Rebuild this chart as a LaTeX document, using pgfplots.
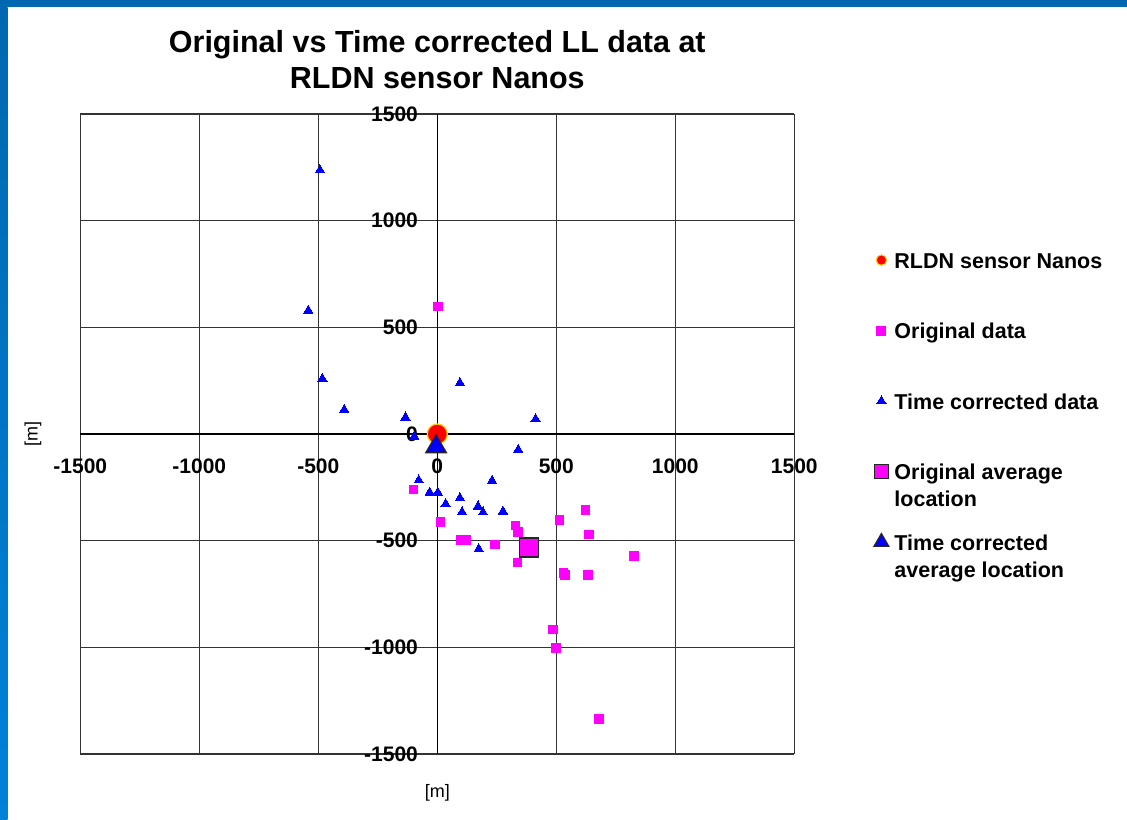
\documentclass[border=0pt]{standalone}
\usepackage{pgfplots}
\pgfplotsset{compat=1.18}
\usepackage{fontspec}
\setmainfont{Liberation Sans}
\definecolor{slideblue}{HTML}{0068B0}
\definecolor{slideblue2}{HTML}{0082D9}
\definecolor{ptmag}{HTML}{FF00FF}
\definecolor{ptblue}{HTML}{0000FF}
\definecolor{sensorred}{HTML}{FF0000}
\definecolor{sensoredge}{HTML}{FFD200}

\pgfplotstableread{
x y
3 598
-99 -260
13 -413
100 -497
123 -497
242 -517
328 -430
339 -460
338 -603
514 -403
623 -356
637 -471
826 -572
529 -652
537 -661
633 -660
486 -917
499 -1003
679 -1336
}\origdata

\pgfplotstableread{
x y
-493 1237
-542 579
-483 259
-391 114
-134 78
95 239
413 70
-97 -12
340 -74
-78 -217
230 -219
-32 -274
2 -274
95 -300
35 -328
171 -339
104 -366
192 -367
276 -363
174 -539
}\timedata

\begin{document}
\begin{tikzpicture}[x=1pt,y=1pt]
\useasboundingbox (0,0) rectangle (563.5,409.5);
\fill[white] (0,0) rectangle (563.5,409.5);
\fill[slideblue] (0,405.85) rectangle (563.5,409.5);
\shade[top color=slideblue, bottom color=slideblue2] (0,0) rectangle (3.75,405.85);
\begin{axis}[
  at={(40.15pt,32.5pt)}, anchor=south west,
  scale only axis, width=357pt, height=320pt,
  xmin=-1500, xmax=1500, ymin=-1500, ymax=1500,
  axis lines=middle,
  axis line style={-, black, line width=0.7pt},
  xtick={-1500,-1000,-500,0,500,1000,1500},
  ytick={-1500,-1000,-500,0,500,1000,1500},
  hide obscured x ticks=false, hide obscured y ticks=false,
  grid=major, grid style={black!80, line width=0.75pt},
  major tick length=0pt,
  /pgf/number format/assume math mode=true,
  /pgf/number format/1000 sep={},
  tick label style={font=\bfseries\fontsize{10.5}{12}\selectfont, inner sep=0pt},
  xticklabel style={anchor=center, yshift=-16.35pt},
  yticklabel style={anchor=east, xshift=-9.5pt},
  title={\begin{tabular}[b]{@{}c@{}}Original vs Time corrected LL data at\\RLDN sensor Nanos\end{tabular}},
  title style={at={(rel axis cs:0.5,1)}, anchor=base, yshift=6.65pt, inner sep=0pt, font=\bfseries\fontsize{15.25}{18}\selectfont},
  xlabel={[m]}, ylabel={[m]},
  xlabel style={at={(rel axis cs:0.5,0)}, anchor=center, yshift=-19.5pt, font=\fontsize{9}{10}\selectfont},
  ylabel style={at={(rel axis cs:0,0.5)}, anchor=center, xshift=-23.65pt, rotate=90, font=\fontsize{9}{10}\selectfont},
  legend style={at={(rel axis cs:1.111,0.788)}, anchor=north west, draw=none, fill=none,
    font=\bfseries\fontsize{10.75}{13.5}\selectfont, inner sep=0pt,
    row sep=25.25pt, column sep=1.8pt,
    nodes={inner sep=1pt, text height=8pt, text depth=0pt}},
  legend cell align=left,
]
\addplot[only marks, mark=*, mark size=5pt, mark options={fill=sensorred, draw=sensoredge, line width=0.6pt},
  legend image code/.code={\draw[mark=*, mark size=2.6pt, mark options={fill=sensorred, draw=sensoredge, line width=0.5pt}] plot coordinates {(0pt,0pt)};}]
  coordinates {(0,0)};
\addlegendentry{RLDN sensor Nanos}
\addplot[only marks, mark=square*, mark size=2.1pt, mark options={fill=ptmag, draw=ptmag, line width=0pt},
  legend image code/.code={\draw[mark=square*, mark size=2.25pt, mark options={fill=ptmag, draw=ptmag, line width=0pt}] plot coordinates {(0pt,0pt)};}]
  table[x=x, y=y] {\origdata};
\addlegendentry{Original data}
\addplot[only marks, mark=triangle*, mark size=2.7pt, mark options={fill=ptblue, draw=ptblue, line width=0pt},
  legend image code/.code={\draw[mark=triangle*, mark size=2.7pt, mark options={fill=ptblue, draw=ptblue, line width=0pt}] plot coordinates {(0pt,0pt)};}]
  table[x=x, y=y] {\timedata};
\addlegendentry{Time corrected data}
\addplot[only marks, mark=square*, mark size=4.75pt, mark options={fill=ptmag, draw=black!85, line width=0.6pt},
  legend image code/.code={\draw[mark=square*, mark size=3.6pt, mark options={fill=ptmag, draw=black!85, line width=0.6pt}] plot coordinates {(0pt,0pt)};}]
  coordinates {(385,-532)};
\addlegendentry{\begin{tabular}[t]{@{}l@{}}Original average\\location\end{tabular}}
\addplot[only marks, mark=triangle*, mark size=6pt, mark options={fill=ptblue, draw=black!85, line width=0.6pt},
  legend image code/.code={\draw[mark=triangle*, mark size=4.3pt, mark options={fill=ptblue, draw=black!85, line width=0.6pt}] plot coordinates {(0pt,0pt)};}]
  coordinates {(-5,-60)};
\addlegendentry{\begin{tabular}[t]{@{}l@{}}Time corrected\\average location\end{tabular}}
\end{axis}
\end{tikzpicture}
\end{document}
